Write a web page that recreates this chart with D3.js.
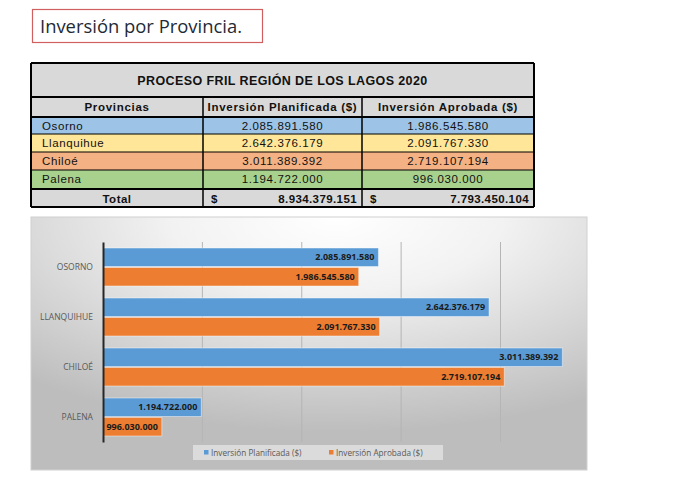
<!DOCTYPE html>
<html><head><meta charset="utf-8">
<script src="https://cdn.jsdelivr.net/npm/d3@7/dist/d3.min.js"></script>
<style>body{margin:0;background:#fff}svg{display:block}</style>
</head><body>
<script>
const provinces = ["Osorno", "Llanquihue", "Chiloé", "Palena"];
const planned = [2085891580, 2642376179, 3011389392, 1194722000];
const approved = [1986545580, 2091767330, 2719107194, 996030000];
const seriesNames = ["Inversión Planificada ($)", "Inversión Aprobada ($)"];
const rowColors = ["#9dc3e6", "#ffe699", "#f4b183", "#a9d18e"];
const seriesColors = ["#5b9bd5", "#ed7d31"];
const xTicks = [1200000000, 1700000000, 2200000000, 2700000000];
const xDomain = [700000000, 3100000000];

const W = 674, H = 483;
const svg = d3.select("body").append("svg").attr("width", W).attr("height", H);
const loc = d3.formatLocale({decimal: ",", thousands: ".", grouping: [3], currency: ["$", ""]});
const fmt = loc.format(",d");

// Title box
svg.append("rect").attr("x", 32.5).attr("y", 9.5).attr("width", 230).attr("height", 33)
  .attr("fill", "#fff").attr("stroke", "#d06060").attr("stroke-width", 1.2);
svg.append("text").attr("x", 40).attr("y", 33).attr("font-family", "Open Sans, sans-serif")
  .attr("font-size", 19).attr("fill", "#1f2a36").attr("textLength", 202).attr("lengthAdjust", "spacingAndGlyphs")
  .text("Inversión por Provincia.");

// Table
const tx0 = 31, tx1 = 203, tx2 = 362, tx3 = 534;
const ty = [63, 97, 117, 134, 152, 170, 189, 207];
const tf = "Liberation Sans, Arial, sans-serif";
const tg = svg.append("g");
tg.append("rect").attr("x", tx0).attr("y", ty[0]).attr("width", tx3 - tx0).attr("height", ty[1] - ty[0]).attr("fill", "#d9d9d9");
tg.append("rect").attr("x", tx0).attr("y", ty[1]).attr("width", tx3 - tx0).attr("height", ty[2] - ty[1]).attr("fill", "#d9d9d9");
provinces.forEach((p, i) => {
  tg.append("rect").attr("x", tx0).attr("y", ty[i + 2]).attr("width", tx3 - tx0).attr("height", ty[i + 3] - ty[i + 2]).attr("fill", rowColors[i]);
});
tg.append("rect").attr("x", tx0).attr("y", ty[6]).attr("width", tx3 - tx0).attr("height", ty[7] - ty[6]).attr("fill", "#d9d9d9");
// borders
ty.forEach((y, i) => {
  tg.append("line").attr("x1", tx0).attr("x2", tx3).attr("y1", y).attr("y2", y)
    .attr("stroke", "#000").attr("stroke-width", (i === 0 || i === 1 || i === 2 || i === 6 || i === 7) ? 2 : 1.2);
});
[tx0, tx3].forEach(x => tg.append("line").attr("x1", x).attr("x2", x).attr("y1", ty[0]).attr("y2", ty[7]).attr("stroke", "#000").attr("stroke-width", 2));
[tx1, tx2].forEach(x => tg.append("line").attr("x1", x).attr("x2", x).attr("y1", ty[1]).attr("y2", ty[7]).attr("stroke", "#000").attr("stroke-width", 1.5));

tg.append("text").attr("x", (tx0 + tx3) / 2).attr("y", 84.5).attr("text-anchor", "middle")
  .attr("font-family", tf).attr("font-weight", "bold").attr("font-size", 12.5).attr("letter-spacing", 0.4).attr("fill", "#111")
  .text("PROCESO FRIL REGIÓN DE LOS LAGOS 2020");
const hdr = ["Provincias"].concat(seriesNames);
[[tx0, tx1], [tx1, tx2], [tx2, tx3]].forEach((c, j) => {
  tg.append("text").attr("x", (c[0] + c[1]) / 2).attr("y", ty[1] + 14).attr("text-anchor", "middle")
    .attr("font-family", tf).attr("font-weight", "bold").attr("font-size", 11.5).attr("letter-spacing", 0.7).attr("fill", "#111").text(hdr[j]);
});
provinces.forEach((p, i) => {
  const yb = ty[i + 2] + 13;
  tg.append("text").attr("x", 42).attr("y", yb).attr("font-family", tf).attr("font-size", 11.5).attr("letter-spacing", 0.6).attr("fill", "#111").text(p);
  tg.append("text").attr("x", (tx1 + tx2) / 2).attr("y", yb).attr("text-anchor", "middle").attr("font-family", tf).attr("font-size", 11.5).attr("letter-spacing", 0.6).attr("fill", "#111").text(fmt(planned[i]));
  tg.append("text").attr("x", (tx2 + tx3) / 2).attr("y", yb).attr("text-anchor", "middle").attr("font-family", tf).attr("font-size", 11.5).attr("letter-spacing", 0.6).attr("fill", "#111").text(fmt(approved[i]));
});
const yt = ty[6] + 13.5;
tg.append("text").attr("x", (tx0 + tx1) / 2).attr("y", yt).attr("text-anchor", "middle").attr("font-family", tf).attr("font-weight", "bold").attr("font-size", 11.5).attr("letter-spacing", 0.5).attr("fill", "#111").text("Total");
[[tx1, tx2, planned], [tx2, tx3, approved]].forEach(c => {
  tg.append("text").attr("x", c[0] + 8).attr("y", yt).attr("font-family", tf).attr("font-weight", "bold").attr("font-size", 11.5).attr("fill", "#111").text("$");
  tg.append("text").attr("x", c[1] - 5).attr("y", yt).attr("text-anchor", "end").attr("font-family", tf).attr("font-weight", "bold").attr("font-size", 11.5).attr("letter-spacing", 0.4).attr("fill", "#111").text(fmt(d3.sum(c[2])));
});

// Chart panel
const defs = svg.append("defs");
const rg = defs.append("radialGradient").attr("id", "bg").attr("cx", "55%").attr("cy", "0%").attr("r", "85%")
  .attr("gradientUnits", "objectBoundingBox");
rg.append("stop").attr("offset", "0%").attr("stop-color", "#ffffff");
rg.append("stop").attr("offset", "35%").attr("stop-color", "#f2f2f2");
rg.append("stop").attr("offset", "100%").attr("stop-color", "#bdbdbd");
svg.append("rect").attr("x", 31).attr("y", 217).attr("width", 556).attr("height", 253)
  .attr("fill", "url(#bg)").attr("stroke", "#d0d0d0").attr("stroke-width", 1);

const plotL = 103, plotR = 580, plotT = 242, plotB = 442;
const x = d3.scaleLinear().domain(xDomain).range([plotL, plotR]);
const y0 = d3.scaleBand().domain(provinces).range([plotT, plotB]).paddingInner(0.24).paddingOuter(0.12);
const y1 = d3.scaleBand().domain([0, 1]).range([0, y0.bandwidth()]).paddingInner(0.05);

// gridlines
svg.append("g").selectAll("line").data(xTicks).join("line")
  .attr("x1", d => x(d)).attr("x2", d => x(d)).attr("y1", plotT).attr("y2", plotB)
  .attr("stroke", "#b5b5b5").attr("stroke-width", 1);

const series = [planned, approved];
const cf = "Open Sans, sans-serif";
series.forEach((vals, s) => {
  const g = svg.append("g");
  g.selectAll("rect").data(provinces).join("rect")
    .attr("x", x(xDomain[0]))
    .attr("y", p => y0(p) + y1(s))
    .attr("width", (p, i) => x(vals[i]) - x(xDomain[0]))
    .attr("height", y1.bandwidth())
    .attr("fill", seriesColors[s]).attr("stroke", "rgba(255,255,255,0.45)").attr("stroke-width", 1);
  g.selectAll("text").data(provinces).join("text")
    .attr("x", (p, i) => x(vals[i]) - 4)
    .attr("y", p => y0(p) + y1(s) + y1.bandwidth() / 2)
    .attr("dy", "0.35em").attr("text-anchor", "end")
    .attr("font-family", cf).attr("font-weight", "bold").attr("font-size", 9).attr("fill", "#1a1a1a")
    .text((p, i) => fmt(vals[i]));
});

// category axis
const yAxis = d3.axisLeft(y0).tickSize(0).tickPadding(10).tickFormat(d => d.toUpperCase());
const ag = svg.append("g").attr("transform", `translate(${plotL},0)`).call(yAxis);
ag.select(".domain").attr("stroke", "#262626").attr("stroke-width", 2);
ag.selectAll("text").attr("font-family", cf).attr("font-size", 8.5).attr("fill", "#595959");

// legend
const lg = svg.append("g");
lg.append("rect").attr("x", 193).attr("y", 445).attr("width", 250).attr("height", 15).attr("fill", "rgba(255,255,255,0.45)");
const lx = [204, 329];
seriesNames.forEach((n, i) => {
  lg.append("rect").attr("x", lx[i]).attr("y", 450).attr("width", 4.5).attr("height", 4.5).attr("fill", seriesColors[i]);
  lg.append("text").attr("x", lx[i] + 7).attr("y", 455.5).attr("font-family", cf).attr("font-size", 8.2).attr("fill", "#595959").text(n);
});
</script>
</body></html>
